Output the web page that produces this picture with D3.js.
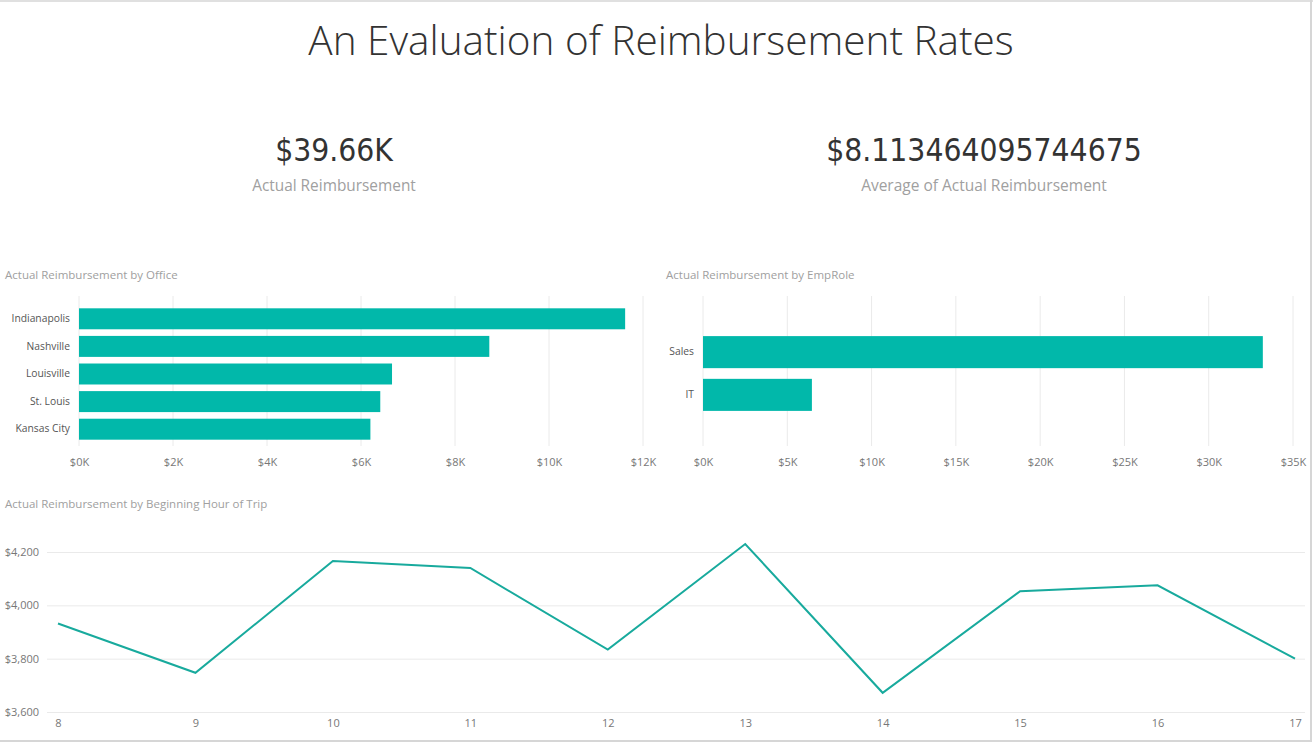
<!DOCTYPE html>
<html>
<head>
<meta charset="utf-8">
<script src="https://cdn.jsdelivr.net/npm/d3@7"></script>
<style>
  html, body { margin: 0; padding: 0; background: #fff; }
  svg { display: block; }
</style>
</head>
<body>
<svg id="chart" width="1313" height="743"></svg>
<script>
// ---- data ----
const offices = ["Indianapolis", "Nashville", "Louisville", "St. Louis", "Kansas City"];
const officeValues = [11620, 8730, 6660, 6410, 6200];
const officeTicks = [0, 2000, 4000, 6000, 8000, 10000, 12000];

const roles = ["Sales", "IT"];
const roleValues = [33210, 6460];
const roleTicks = [0, 5000, 10000, 15000, 20000, 25000, 30000, 35000];

const hours = [8, 9, 10, 11, 12, 13, 14, 15, 16, 17];
const hourValues = [3932, 3747, 4166, 4140, 3834, 4230, 3672, 4053, 4075, 3800];
const hourTicks = [3600, 3800, 4000, 4200];

const kpiTotal = "$39.66K";
const kpiTotalLabel = "Actual Reimbursement";
const kpiAvg = "$8.113464095744675";
const kpiAvgLabel = "Average of Actual Reimbursement";
const pageTitle = "An Evaluation of Reimbursement Rates";

// ---- style ----
const teal = "#01B8AA";
const fontUI = "'Open Sans', 'Noto Sans', sans-serif";
const gridColor = "#eaeaea";

const svg = d3.select("#chart");

// frame lines
svg.append("rect").attr("x", 0).attr("y", 0).attr("width", 1313).attr("height", 2).attr("fill", "#e0e0e0");
svg.append("rect").attr("x", 1310).attr("y", 0).attr("width", 2).attr("height", 742).attr("fill", "#d6d6d6");
svg.append("rect").attr("x", 0).attr("y", 740).attr("width", 1312).attr("height", 2).attr("fill", "#d6d6d6");

// title
svg.append("text")
  .attr("x", 661).attr("y", 55)
  .attr("text-anchor", "middle")
  .attr("font-family", fontUI)
  .attr("font-weight", 300)
  .attr("font-size", 40.5)
  .attr("fill", "#333")
  .text(pageTitle);

// KPI cards
function kpi(cx, value, label, labelSize) {
  svg.append("text")
    .attr("x", cx).attr("y", 161)
    .attr("text-anchor", "middle")
    .attr("font-family", "'DejaVu Sans Condensed', 'Roboto Condensed', 'Roboto', sans-serif")
    .attr("font-size", 31.5)
    .attr("fill", "#333")
    .text(value);
  svg.append("text")
    .attr("x", cx).attr("y", 191)
    .attr("text-anchor", "middle")
    .attr("font-family", fontUI)
    .attr("font-size", labelSize)
    .attr("fill", "#a0a0a0")
    .text(label);
}
kpi(334, kpiTotal, kpiTotalLabel, 15.4);
kpi(984, kpiAvg, kpiAvgLabel, 15.5);

// visual titles
function vtitle(x, y, t) {
  svg.append("text").attr("x", x).attr("y", y)
    .attr("font-family", fontUI).attr("font-size", 11.5)
    .attr("fill", "#a0a0a0").text(t);
}
vtitle(5, 279, "Actual Reimbursement by Office");
vtitle(666, 279, "Actual Reimbursement by EmpRole");
vtitle(5, 508, "Actual Reimbursement by Beginning Hour of Trip");

// horizontal bar chart helper
function hbar(opts) {
  const g = svg.append("g");
  const x = d3.scaleLinear().domain(opts.domain).range([opts.x0, opts.x1]);
  const y = d3.scaleBand().domain(opts.cats).range([opts.y0, opts.y1]).paddingInner(opts.padIn).paddingOuter(opts.padOut);

  // gridlines
  g.append("g").selectAll("line").data(opts.ticks).join("line")
    .attr("x1", d => x(d)).attr("x2", d => x(d))
    .attr("y1", opts.gy0).attr("y2", opts.gy1)
    .attr("stroke", gridColor).attr("stroke-width", 1);

  // x axis labels
  const xAxis = d3.axisBottom(x).tickValues(opts.ticks).tickSize(0).tickPadding(0)
    .tickFormat(d => "$" + d3.format(".0f")(d / 1000) + "K");
  const ax = g.append("g").attr("transform", `translate(0,${opts.axisY})`).call(xAxis);
  ax.select(".domain").remove();
  ax.selectAll("text").attr("font-family", fontUI).attr("font-size", 11).attr("fill", "#777").attr("dy", 0);

  // y axis labels
  const yAxis = d3.axisLeft(y).tickSize(0).tickPadding(opts.labelPad);
  const ay = g.append("g").attr("transform", `translate(${opts.x0},0)`).call(yAxis);
  ay.select(".domain").remove();
  ay.selectAll("text").attr("font-family", fontUI).attr("font-size", 10.3).attr("fill", "#555");

  // bars
  g.append("g").selectAll("rect").data(opts.cats.map((c, i) => ({c, v: opts.values[i]}))).join("rect")
    .attr("x", x(0)).attr("y", d => y(d.c))
    .attr("width", d => x(d.v) - x(0)).attr("height", y.bandwidth())
    .attr("fill", teal);
}

hbar({
  cats: offices, values: officeValues, ticks: officeTicks,
  domain: [0, 12000], x0: 79, x1: 643,
  y0: 305, y1: 443, padIn: 0.24, padOut: 0.12,
  gy0: 296, gy1: 446, axisY: 466, labelPad: 9
});

hbar({
  cats: roles, values: roleValues, ticks: roleTicks,
  domain: [0, 35000], x0: 703, x1: 1293,
  y0: 325, y1: 422, padIn: 0.25, padOut: 0.26,
  gy0: 296, gy1: 446, axisY: 466, labelPad: 9
});

// line chart
{
  const g = svg.append("g");
  const x = d3.scalePoint().domain(hours).range([58, 1295]);
  const y = d3.scaleLinear().domain([3600, 4200]).range([712, 552]);

  g.append("g").selectAll("line").data(hourTicks).join("line")
    .attr("x1", 47).attr("x2", 1305)
    .attr("y1", d => y(d) + 0.5).attr("y2", d => y(d) + 0.5)
    .attr("stroke", gridColor).attr("stroke-width", 1);

  const yAxis = d3.axisLeft(y).tickValues(hourTicks).tickSize(0).tickPadding(0)
    .tickFormat(d => "$" + d3.format(",")(d));
  const ay = g.append("g").attr("transform", "translate(39,0)").call(yAxis);
  ay.select(".domain").remove();
  ay.selectAll("text").attr("font-family", fontUI).attr("font-size", 11).attr("fill", "#777");

  const xAxis = d3.axisBottom(x).tickSize(0).tickPadding(0);
  const ax = g.append("g").attr("transform", "translate(0,727)").call(xAxis);
  ax.select(".domain").remove();
  ax.selectAll("text").attr("font-family", fontUI).attr("font-size", 11).attr("fill", "#777").attr("dy", 0);

  const line = d3.line().x((d, i) => x(hours[i])).y(d => y(d));
  g.append("path").datum(hourValues)
    .attr("d", line)
    .attr("fill", "none")
    .attr("stroke", "#18aa9d")
    .attr("stroke-width", 2)
    .attr("stroke-linejoin", "miter");
}
</script>
</body>
</html>
